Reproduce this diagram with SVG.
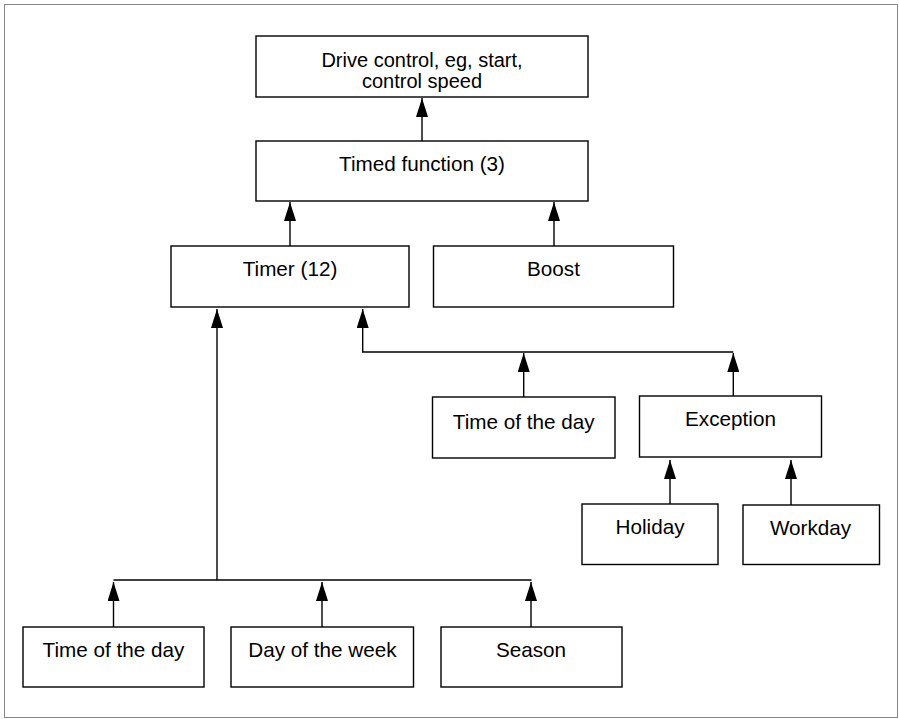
<svg xmlns="http://www.w3.org/2000/svg" width="899" height="719" viewBox="0 0 899 719">
<style>
.box{fill:#fff;stroke:#000;stroke-width:1.4}
.lbl{font-family:"Liberation Sans",Arial,sans-serif;font-size:20.7px;fill:#000;text-anchor:middle}
.sm{font-size:20px}
.con{fill:none;stroke:#000;stroke-width:1.4}
</style>
<defs>
<marker id="ah" viewBox="0 0 19 12" refX="19" refY="6" markerWidth="19" markerHeight="12" markerUnits="userSpaceOnUse" orient="auto">
<path d="M0,0 L19,6 L0,12 z" fill="#000"/>
</marker>
</defs>
<rect x="0" y="0" width="899" height="719" fill="#fff"/>
<rect x="4.5" y="4.5" width="893" height="713" fill="none" stroke="#888" stroke-width="1"/>
<g id="connectors">
<line class="con" x1="422" y1="141" x2="422" y2="98" marker-end="url(#ah)"/>
<line class="con" x1="290" y1="246" x2="290" y2="202" marker-end="url(#ah)"/>
<line class="con" x1="554" y1="246" x2="554" y2="202" marker-end="url(#ah)"/>
<line class="con" x1="217" y1="580" x2="217" y2="309" marker-end="url(#ah)"/>
<polyline class="con" points="113.5,580 531.5,580"/>
<line class="con" x1="113.5" y1="627" x2="113.5" y2="582" marker-end="url(#ah)"/>
<line class="con" x1="322" y1="627" x2="322" y2="582" marker-end="url(#ah)"/>
<line class="con" x1="531" y1="627" x2="531" y2="582" marker-end="url(#ah)"/>
<polyline class="con" points="733.3,352 362.7,352 362.7,309" marker-end="url(#ah)"/>
<line class="con" x1="523.7" y1="397" x2="523.7" y2="353" marker-end="url(#ah)"/>
<line class="con" x1="733.3" y1="396" x2="733.3" y2="353" marker-end="url(#ah)"/>
<line class="con" x1="670" y1="504" x2="670" y2="460" marker-end="url(#ah)"/>
<line class="con" x1="791" y1="505" x2="791" y2="460" marker-end="url(#ah)"/>
</g>
<g id="drive">
<rect class="box" x="256" y="36" width="332" height="61"/>
<text class="lbl sm" x="422" y="66.5">Drive control, eg, start,</text>
<text class="lbl sm" x="422" y="88">control speed</text>
</g>
<g id="timed">
<rect class="box" x="256" y="141" width="332" height="60"/>
<text class="lbl" x="422" y="171">Timed function (3)</text>
</g>
<g id="timer">
<rect class="box" x="171" y="246" width="238" height="61"/>
<text class="lbl" x="290" y="276">Timer (12)</text>
</g>
<g id="boost">
<rect class="box" x="433.5" y="246" width="240" height="61"/>
<text class="lbl" x="553.5" y="276">Boost</text>
</g>
<g id="timeofday2">
<rect class="box" x="432.5" y="397" width="182.5" height="61"/>
<text class="lbl" x="523.7" y="428.5">Time of the day</text>
</g>
<g id="exception">
<rect class="box" x="639.5" y="396" width="182" height="61"/>
<text class="lbl" x="730.5" y="426">Exception</text>
</g>
<g id="holiday">
<rect class="box" x="582" y="504" width="136" height="60.5"/>
<text class="lbl" x="650" y="534">Holiday</text>
</g>
<g id="workday">
<rect class="box" x="743" y="505" width="136.5" height="59.5"/>
<text class="lbl" x="810.5" y="535">Workday</text>
</g>
<g id="timeofday1">
<rect class="box" x="23" y="627" width="181" height="60"/>
<text class="lbl" x="113.5" y="657">Time of the day</text>
</g>
<g id="dayofweek">
<rect class="box" x="231" y="627" width="182.5" height="60"/>
<text class="lbl" x="322.5" y="657">Day of the week</text>
</g>
<g id="season">
<rect class="box" x="441" y="627" width="181" height="60"/>
<text class="lbl" x="531" y="657">Season</text>
</g>
</svg>
